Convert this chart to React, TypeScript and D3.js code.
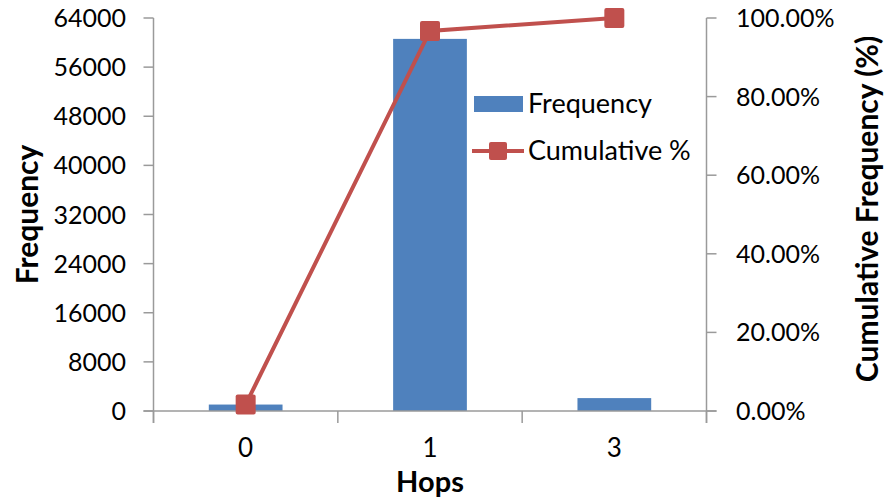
import React from "react";
import * as d3 from "d3";

const categories = ["0", "1", "3"];
const frequency = [1050, 60600, 2100];
const freqTicks = [0, 8000, 16000, 24000, 32000, 40000, 48000, 56000, 64000];
const pctTicks = [0, 0.2, 0.4, 0.6, 0.8, 1.0];

const total = d3.sum(frequency);
const cumulative = frequency.map((_, i) => d3.sum(frequency.slice(0, i + 1)) / total);

const W = 884;
const H = 500;
const left = 153.5;
const right = 706.5;
const top = 18;
const bottom = 411;
const BLUE = "#4F81BD";
const RED = "#C0504D";
const AXIS = "#9a9a9a";
const FONT = "Lato, 'Open Sans', sans-serif";

export default function App() {
  const x = d3.scaleBand<string>().domain(categories).range([left, right]).paddingInner(0.6).paddingOuter(0.3);
  const step = x.step();
  const y = d3.scaleLinear().domain([0, 64000]).range([bottom, top]);
  const y2 = d3.scaleLinear().domain([0, 1]).range([bottom, top]);
  const line = d3
    .line<number>()
    .x((_, i) => (x(categories[i]) as number) + x.bandwidth() / 2)
    .y((d) => y2(d));
  const fmtPct = d3.format(".2%");
  const catTickXs = [left, ...categories.map((c) => (x(c) as number) + x.bandwidth() / 2 + step / 2)];

  return (
    <svg
      width={W}
      height={H}
      style={{ position: "absolute", left: 0, top: 0, background: "#fff" }}
      fontFamily={FONT}
    >
      {/* bars */}
      {frequency.map((v, i) => (
        <rect
          key={i}
          x={x(categories[i])}
          y={y(v)}
          width={x.bandwidth()}
          height={bottom - y(v)}
          fill={BLUE}
        />
      ))}
      {/* axes */}
      <g stroke={AXIS} strokeWidth={1.5} fill="none">
        <line x1={left} x2={left} y1={top} y2={bottom + 12} />
        <line x1={right} x2={right} y1={top} y2={bottom + 12} />
        <line x1={left - 10} x2={right + 10} y1={bottom} y2={bottom} />
        {freqTicks.map((t) => (
          <line key={"l" + t} x1={left - 10} x2={left} y1={y(t)} y2={y(t)} />
        ))}
        {pctTicks.map((t) => (
          <line key={"r" + t} x1={right} x2={right + 10} y1={y2(t)} y2={y2(t)} />
        ))}
        {catTickXs.map((cx, i) => (
          <line key={"c" + i} x1={cx} x2={cx} y1={bottom} y2={bottom + 12} />
        ))}
      </g>
      {/* tick labels */}
      <g fontSize={25} fill="#000">
        {freqTicks.map((t) => (
          <text key={"lt" + t} x={126} y={y(t) + 9} textAnchor="end">
            {t}
          </text>
        ))}
        {pctTicks.map((t) => (
          <text key={"rt" + t} x={736} y={y2(t) + 9} textAnchor="start">
            {fmtPct(t)}
          </text>
        ))}
      </g>
      <g fontSize={26} fill="#000">
        {categories.map((c) => (
          <text key={"ct" + c} x={(x(c) as number) + x.bandwidth() / 2} y={457} textAnchor="middle">
            {c}
          </text>
        ))}
      </g>
      {/* line */}
      <path d={line(cumulative) as string} fill="none" stroke={RED} strokeWidth={4} />
      {cumulative.map((v, i) => (
        <rect
          key={"m" + i}
          x={(x(categories[i]) as number) + x.bandwidth() / 2 - 10}
          y={y2(v) - 10}
          width={20}
          height={20}
          rx={2}
          fill={RED}
        />
      ))}
      {/* titles */}
      <g fontWeight="bold" fill="#000">
        <text x={(left + right) / 2} y={492} textAnchor="middle" fontSize={29}>Hops</text>
        <text transform={`translate(38,${(top + bottom) / 2}) rotate(-90)`} textAnchor="middle" fontSize={30}>Frequency</text>
        <text transform={`translate(878,209) rotate(-90)`} textAnchor="middle" fontSize={30}>Cumulative Frequency (%)</text>
      </g>
      {/* legend */}
      <g fontSize={27} fill="#000">
        <rect x={474} y={96} width={49} height={16} fill={BLUE} />
        <text x={528} y={113}>Frequency</text>
        <line x1={472} x2={524} y1={151} y2={151} stroke={RED} strokeWidth={4} />
        <rect x={489} y={142} width={18} height={18} rx={2} fill={RED} />
        <text x={528} y={160}>Cumulative %</text>
      </g>
    </svg>
  );
}
